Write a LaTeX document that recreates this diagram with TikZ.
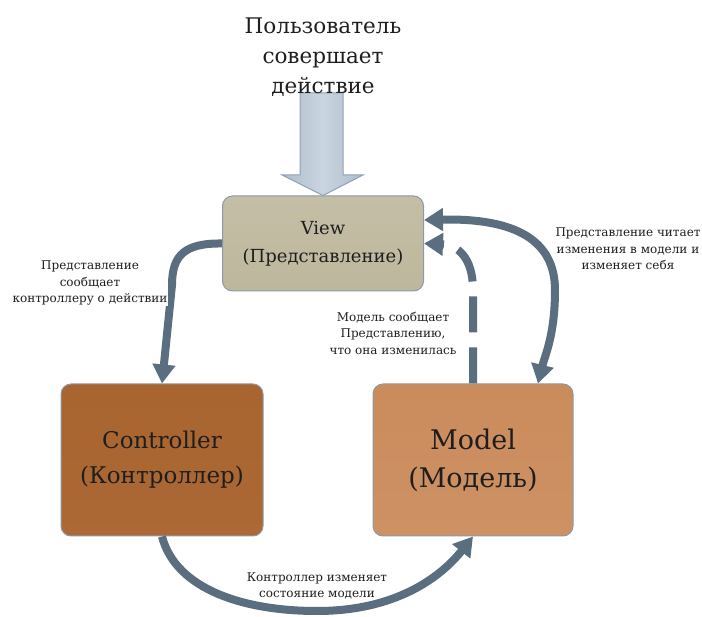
\documentclass[tikz,border=0pt]{standalone}
\usepackage{fontspec}
\setmainfont{DejaVu Serif}
\usetikzlibrary{arrows.meta}

\definecolor{flowcol}{HTML}{5B6E80}
\definecolor{edgecol}{HTML}{8C9AA7}
\definecolor{inkcol}{HTML}{1E1E1E}
\definecolor{viewtop}{HTML}{C3BEA5}
\definecolor{viewmid}{HTML}{D3D1BE}
\definecolor{viewbot}{HTML}{BDB79D}
\definecolor{ctrltop}{HTML}{A9652F}
\definecolor{ctrlmid}{HTML}{C4834F}
\definecolor{ctrlbot}{HTML}{AC6835}
\definecolor{modeltop}{HTML}{CB8C5C}
\definecolor{modelmid}{HTML}{DAA884}
\definecolor{modelbot}{HTML}{CD9164}
\definecolor{useredge}{HTML}{8FA1B4}
\definecolor{userside}{HTML}{ACBDCE}
\definecolor{usermid}{HTML}{CAD5DF}

\tikzset{
  box/.style={draw=edgecol, line width=1pt, rounded corners=10pt, align=center,
    inner sep=0pt, text=inkcol},
  flow/.style={draw=flowcol, line width=8pt, -{Triangle[width=22pt,length=19pt]}},
  note/.style={align=center, text=inkcol, font=\fontsize{12}{16.5}\selectfont},
}

\begin{document}
\begin{tikzpicture}[x=1pt, y=-1pt]
    \useasboundingbox (0, 0) rectangle (702, 617);

    % the three parts
    \node[box, minimum width=201pt, minimum height=95pt,
      top color=viewtop, middle color=viewmid, bottom color=viewbot,
      font=\fontsize{18}{28}\selectfont] (view) at (323, 243.5) {View\\(Представление)};
    \node[box, minimum width=202pt, minimum height=152pt,
      top color=ctrltop, middle color=ctrlmid, bottom color=ctrlbot,
      font=\fontsize{23}{35}\selectfont] (ctrl) at (162, 460) {Controller\\(Контроллер)};
    \node[box, minimum width=200pt, minimum height=152pt,
      top color=modeltop, middle color=modelmid, bottom color=modelbot,
      font=\fontsize{27}{38}\selectfont] (model) at (473, 460) {Model\\(Модель)};

    % user action
    \draw[draw=useredge, line width=1pt, left color=userside, right color=userside,
      middle color=usermid]
      (300, 93) -- (343, 93) -- (343, 175) -- (363, 175) -- (view.north)
      -- (282, 175) -- (300, 175) -- cycle;
    \node[align=center, text=inkcol, font=\fontsize{21.5}{30}\selectfont] (user) at (323, 57)
      {Пользователь\\совершает\\действие};

    % arrows
    \draw[flow] (view.west) .. controls (185, 243) and (172, 255) .. (172, 285) -- (ctrl.north);
    \draw[flow] (ctrl.south) .. controls (176, 590) and (245, 611) .. (317, 611)
      .. controls (395, 611) and (440, 578) .. (model.south);
    \draw[flow, {Triangle[width=22pt,length=19pt]}-{Triangle[width=22pt,length=19pt]}]
      ([yshift=23.5pt]view.east) .. controls (515, 218) and (555, 240) .. (555, 290)
      .. controls (555, 335) and (545, 355) .. ([xshift=65pt]model.north);
    \draw[flow, dash pattern=on 36pt off 15pt]
      (model.north) -- (473, 290) .. controls (473, 258) and (458, 245) .. (view.east);

    \node[note, fill=white, inner sep=1pt] (n1) at (90, 283)
      {Представление\\сообщает\\контроллеру о действии};
    \node[note] (n2) at (628, 249) {Представление читает\\изменения в модели и\\изменяет себя};
    \node[note] (n3) at (393, 333) {Модель сообщает\\Представлению,\\что она изменилась};
    \node[note] (n4) at (317, 586) {Контроллер изменяет\\состояние модели};
\end{tikzpicture}
\end{document}
